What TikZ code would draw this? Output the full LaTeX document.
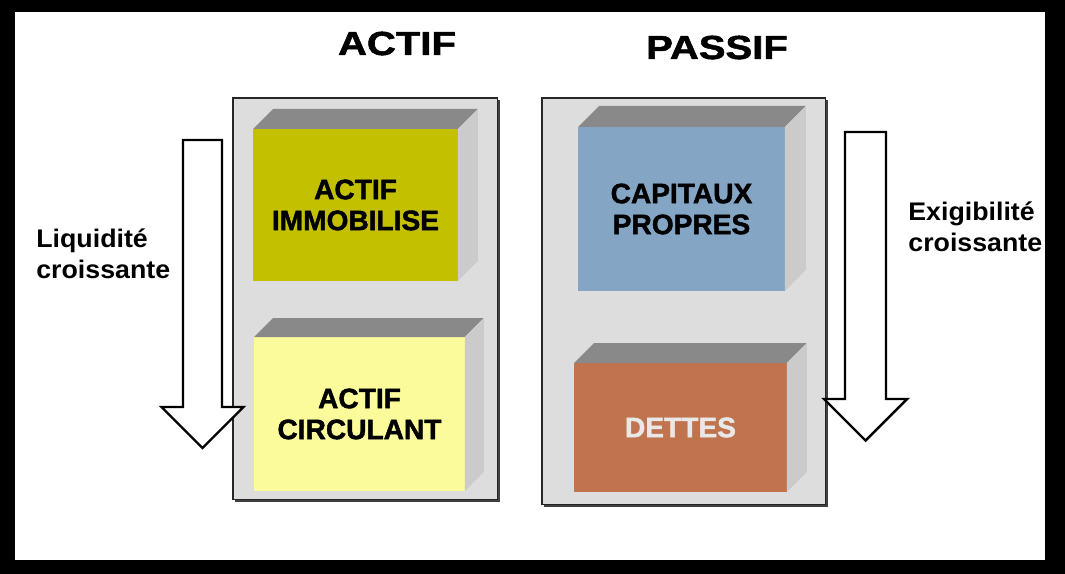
\documentclass[tikz,border=0pt]{standalone}
\usepackage{fontspec}
\setmainfont{Liberation Sans}
\newfontfamily\grasfont{Liberation Sans}[BoldFeatures={FakeBold=1.5}]
\usepackage{xcolor}
\usepackage{tikz}
\usetikzlibrary{calc,shadows}

\definecolor{panelgray}{HTML}{DDDDDD}
\definecolor{topgray}{HTML}{898989}
\definecolor{sidegray}{HTML}{CBCBCB}
\definecolor{immocol}{HTML}{C3C000}
\definecolor{circcol}{HTML}{FBFB9B}
\definecolor{capicol}{HTML}{84A5C4}
\definecolor{dettecol}{HTML}{C1734E}
\definecolor{dettetext}{HTML}{E8E8E8}

% top and right faces of a block (node name, depth)
\newcommand{\relief}[2]{%
  \fill[topgray] (#1.north west) -- ++(#2,-#2) -- ($(#1.north east)+(#2,-#2)$) -- (#1.north east) -- cycle;
  \fill[sidegray] (#1.north east) -- ++(#2,-#2) -- ($(#1.south east)+(#2,-#2)$) -- (#1.south east) -- cycle;
}

\begin{document}
\begin{tikzpicture}[x=0.02cm, y=-0.02cm,
  panneau/.style={draw=black!85, line width=0.6pt, fill=panelgray, inner sep=0pt, outer sep=0pt, anchor=north west,
    drop shadow={shadow xshift=1pt, shadow yshift=-1pt, fill=black!75, opacity=1}},
  bloc/.style={inner sep=0pt, outer sep=0pt, anchor=north west, align=center, font=\fontsize{16}{17.6}\selectfont\grasfont\bfseries},
  titre/.style={anchor=base, xscale=1.2, font=\fontsize{19}{22}\selectfont\grasfont\bfseries},
  legende/.style={anchor=west, align=left, inner sep=0pt, xscale=1.05, font=\fontsize{14.5}{17.6}\selectfont\bfseries},
  fleche/.style={draw=black, fill=white, line width=1.4pt, miter limit=10}]

  % Frame
  \fill[black] (0,0) rectangle (1065,574);
  \fill[white] (15,12) rectangle (1045,560);

  % Panels
  \node[panneau, minimum width=5.30cm, minimum height=8.04cm] (actifpanel) at (233,98) {};
  \node[panneau, minimum width=5.68cm, minimum height=8.14cm] (passifpanel) at (542,98) {};

  % Actif blocks
  \node[bloc, fill=immocol, minimum width=4.10cm, minimum height=3.04cm] (immo) at (253,129) {ACTIF\\IMMOBILISE};
  \relief{immo}{20}
  \node[bloc, fill=circcol, minimum width=4.22cm, minimum height=3.08cm] (circ) at (254,337) {ACTIF\\CIRCULANT};
  \relief{circ}{19}

  % Passif blocks
  \node[bloc, fill=capicol, minimum width=4.14cm, minimum height=3.28cm] (capi) at (578,127) {CAPITAUX\\PROPRES};
  \relief{capi}{21}
  \node[bloc, fill=dettecol, text=dettetext, minimum width=4.26cm, minimum height=2.58cm] (dettes) at (574,363) {DETTES};
  \relief{dettes}{20}

  % Arrows
  \draw[fleche] (183,140) -- (222,140) -- (222,407) -- (243.5,407) -- (202.5,448) -- (161.5,407) -- (183,407) -- cycle;
  \draw[fleche] (845,132) -- (886,132) -- (886,399) -- (907,399) -- (865.5,440.5) -- (824,399) -- (845,399) -- cycle;

  % Titles and labels
  \node[titre] (actiftitre) at (397,55) {ACTIF};
  \node[titre] (passiftitre) at (717,59) {PASSIF};
  \node[legende] (liquidite) at (36,254) {Liquidité\\croissante};
  \node[legende] (exigibilite) at (908,227) {Exigibilité\\croissante};
\end{tikzpicture}
\end{document}
